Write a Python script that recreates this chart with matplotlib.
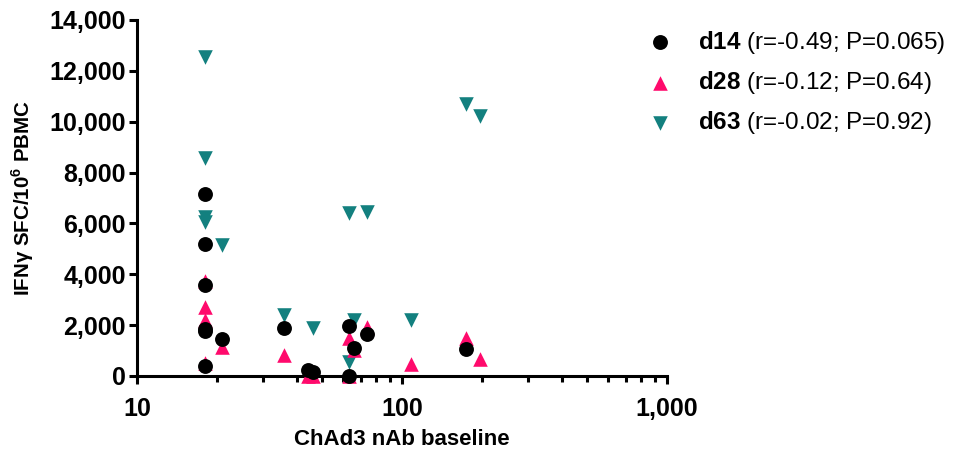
import numpy as np
import matplotlib.pyplot as plt
from matplotlib.ticker import FuncFormatter, LogLocator, NullFormatter

plt.rcParams['font.family'] = ['Liberation Sans', 'DejaVu Sans']
plt.rcParams['mathtext.fontset'] = 'custom'
plt.rcParams['mathtext.rm'] = 'Liberation Sans'
plt.rcParams['mathtext.bf'] = 'Liberation Sans:bold'

# nAb baseline titre y respuesta IFNg por visita
x_d14 = [18, 18, 18, 18, 18, 18, 21, 36, 44, 46, 63, 63, 66, 74, 175]
y_d14 = [7150, 5200, 3580, 1850, 1750, 400, 1450, 1880, 250, 150, 1960, 0, 1110, 1650, 1050]

x_d28 = [18, 18, 18, 18, 21, 36, 44, 46, 63, 66, 63, 74, 108, 175, 196]
y_d28 = [3750, 2700, 2200, 500, 1150, 820, 0, 0, 1490, 1020, 0, 1940, 470, 1490, 650]

x_d63 = [18, 18, 18, 18, 21, 36, 46, 63, 63, 66, 74, 108, 175, 196]
y_d63 = [12550, 8560, 6260, 6060, 5150, 2400, 1880, 6400, 560, 2200, 6450, 2200, 10690, 10220]

labels = [r"$\bf{d14}$ (r=-0.49; P=0.065)",
          r"$\bf{d28}$ (r=-0.12; P=0.64)",
          r"$\bf{d63}$ (r=-0.02; P=0.92)"]

fig = plt.figure(figsize=(9.55, 4.54), dpi=100)
ax = fig.add_axes([0.1435, 0.172, 0.555, 0.784])

ax.scatter(x_d63, y_d63, marker='v', s=110, color='#13807F', clip_on=False, zorder=3, label=labels[2], linewidths=0)
ax.scatter(x_d28, y_d28, marker='^', s=110, color='#FF0A6C', clip_on=False, zorder=4, label=labels[1], linewidths=0)
ax.scatter(x_d14, y_d14, marker='o', s=115, color='black', clip_on=False, zorder=5, label=labels[0], linewidths=0)

ax.set_xscale('log')
ax.set_xlim(10, 1000)
ax.set_ylim(0, 14000)
ax.set_yticks(np.arange(0, 14001, 2000))
ax.xaxis.set_major_locator(LogLocator(base=10, numticks=5))
ax.xaxis.set_minor_locator(LogLocator(base=10, subs=np.arange(2, 10), numticks=20))
ax.xaxis.set_minor_formatter(NullFormatter())
fmt = FuncFormatter(lambda v, p: "{:,.0f}".format(v))
ax.xaxis.set_major_formatter(fmt)
ax.yaxis.set_major_formatter(fmt)

for s in ['top', 'right']:
    ax.spines[s].set_visible(False)
for s in ['left', 'bottom']:
    ax.spines[s].set_linewidth(2.2)

ax.tick_params(axis='both', which='major', width=2.2, length=6, labelsize=18, pad=2)
ax.tick_params(axis='x', which='minor', width=2.2, length=4)
for t in ax.get_xticklabels() + ax.get_yticklabels():
    t.set_fontweight('bold')
ax.tick_params(axis='x', which='major', pad=9)

ax.set_xlabel("ChAd3 nAb baseline", fontsize=16, fontweight='bold', labelpad=6)
ax.set_ylabel(r"IFN$\mathbf{\gamma}$ SFC/10$^{\bf{6}}$ PBMC", fontsize=14.8, fontweight='bold', labelpad=10)

h, l = ax.get_legend_handles_labels()
leg = fig.legend(h[::-1], l[::-1], loc='upper left', bbox_to_anchor=(0.643, 0.985),
                 frameon=False, fontsize=17.5, handletextpad=0.55, labelspacing=0.55,
                 scatterpoints=1)

fig.savefig("out.png", dpi=100)
